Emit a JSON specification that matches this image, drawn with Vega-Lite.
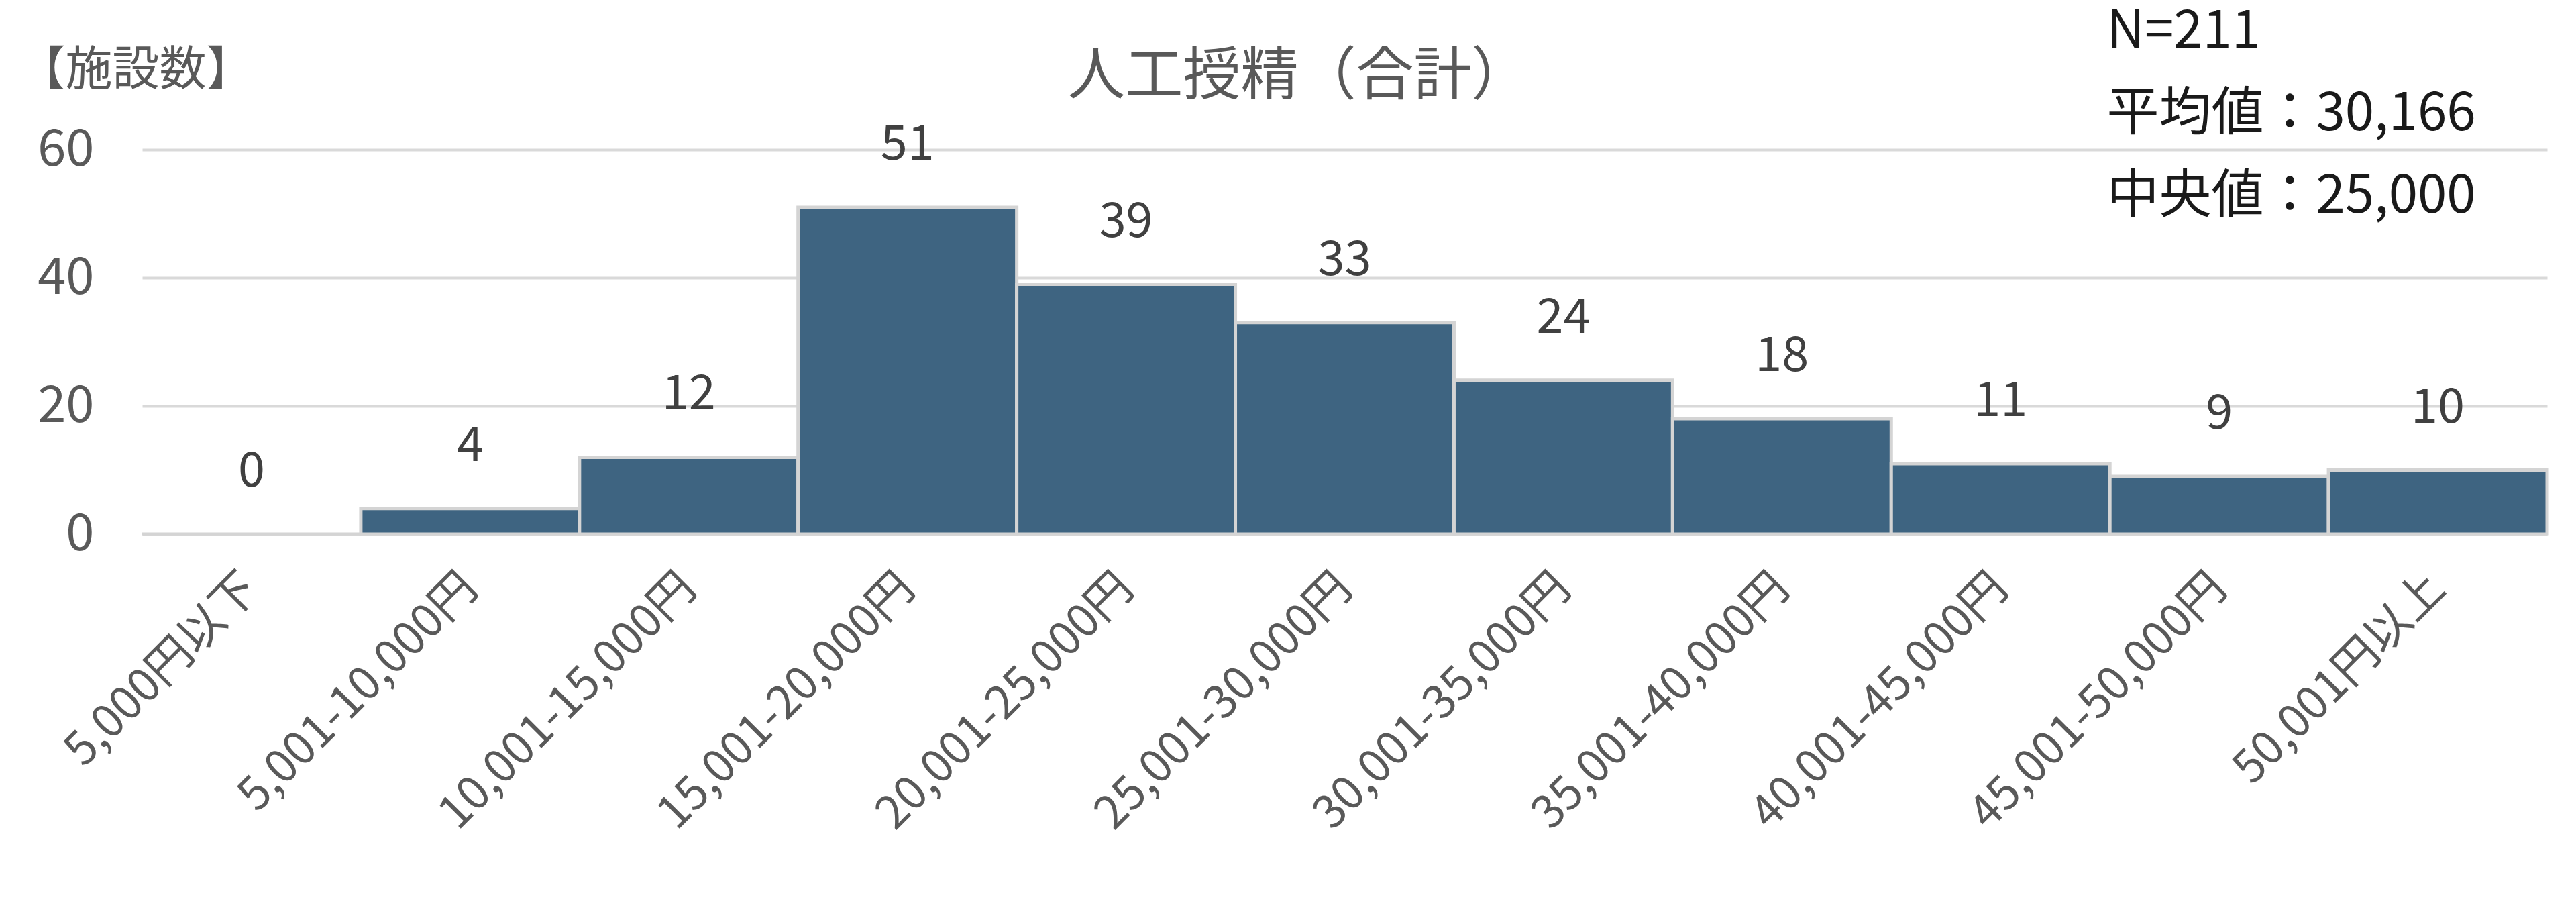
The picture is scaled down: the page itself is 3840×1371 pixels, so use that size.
{
  "$schema": "https://vega.github.io/schema/vega-lite/v6.json",
  "width": 3585,
  "height": 573,
  "autosize": {"type": "none"},
  "padding": {"left": 212, "top": 223, "right": 43, "bottom": 575},
  "background": "white",
  "config": {
    "font": "Noto Sans CJK JP",
    "view": {"stroke": null}
  },
  "title": {
    "text": "人工授精（合計）",
    "anchor": "middle",
    "frame": "group",
    "dx": -69,
    "baseline": "middle",
    "offset": -193,
    "fontSize": 86,
    "fontWeight": "normal",
    "color": "#595959",
    "font": "Noto Sans CJK JP"
  },
  "data": {
    "values": [
      {"range": "5,000円以下", "count": 0},
      {"range": "5,001-10,000円", "count": 4},
      {"range": "10,001-15,000円", "count": 12},
      {"range": "15,001-20,000円", "count": 51},
      {"range": "20,001-25,000円", "count": 39},
      {"range": "25,001-30,000円", "count": 33},
      {"range": "30,001-35,000円", "count": 24},
      {"range": "35,001-40,000円", "count": 18},
      {"range": "40,001-45,000円", "count": 11},
      {"range": "45,001-50,000円", "count": 9},
      {"range": "50,001円以上", "count": 10}
    ]
  },
  "resolve": {"axis": {"x": "independent", "y": "independent"}},
  "layer": [
    {
      "mark": {"type": "bar", "color": "#3e6481", "stroke": "#d4d4d4", "strokeWidth": 5},
      "encoding": {
        "x": {
          "field": "range", "type": "nominal", "sort": null,
          "scale": {"paddingInner": 0, "paddingOuter": 0},
          "axis": {
            "orient": "bottom",
            "title": null,
            "labelAngle": -45,
            "labelAlign": "right",
            "labelBaseline": "middle",
            "labelFontSize": 68,
            "labelColor": "#595959",
            "labelPadding": 70,
            "labelLimit": 2000,
            "ticks": false,
            "domain": true,
            "domainColor": "#d9d9d9",
            "domainWidth": 5,
            "grid": false
          }
        },
        "y": {
          "field": "count", "type": "quantitative",
          "scale": {"domain": [0, 60]},
          "axis": {
            "values": [0, 20, 40, 60],
            "title": "【施設数】",
            "titleAngle": 0,
            "titleX": -185,
            "titleY": -118,
            "titleAlign": "left",
            "titleBaseline": "middle",
            "titleFontSize": 70,
            "titleFontWeight": "normal",
            "titleColor": "#595959",
            "labelFontSize": 76,
            "labelColor": "#595959",
            "labelPadding": 72,
            "ticks": false,
            "domain": false,
            "grid": true,
            "gridColor": "#d9d9d9",
            "gridWidth": 4
          }
        }
      }
    },
    {
      "mark": {"type": "text", "baseline": "middle", "align": "center", "dy": -93, "fontSize": 72, "color": "#404040"},
      "encoding": {
        "x": {
          "field": "range", "type": "nominal", "sort": null,
          "axis": {
            "orient": "top",
            "labels": false,
            "ticks": false,
            "domain": false,
            "grid": false,
            "title": ["N=211", "平均値：30,166", "中央値：25,000"],
            "titleX": 2928,
            "titleY": -153,
            "titleAlign": "left",
            "titleBaseline": "alphabetic",
            "titleLineHeight": 123,
            "titleFontSize": 78,
            "titleFontWeight": "normal",
            "titleColor": "#1a1a1a"
          }
        },
        "y": {"field": "count", "type": "quantitative", "axis": null},
        "text": {"field": "count", "type": "quantitative"}
      }
    }
  ]
}
